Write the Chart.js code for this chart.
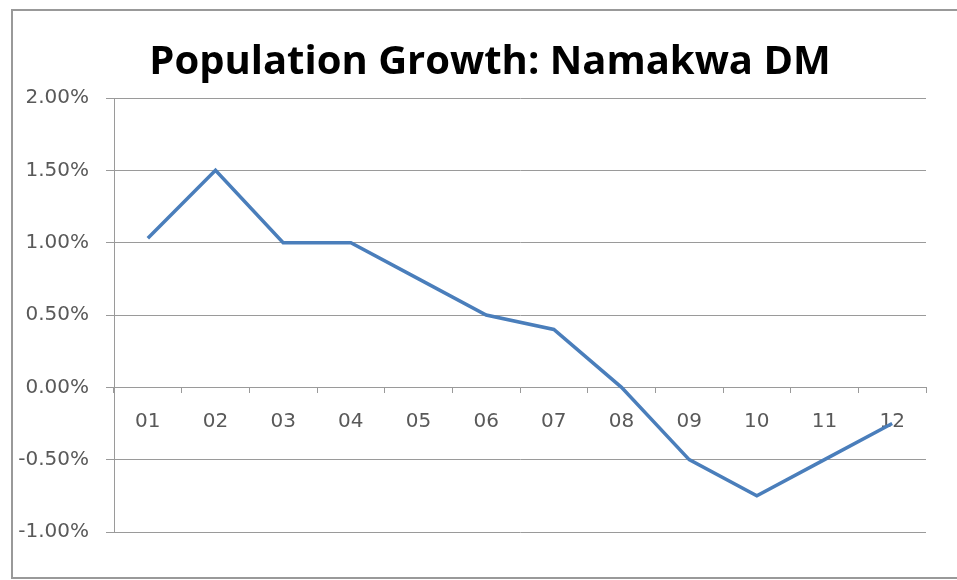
<!DOCTYPE html>
<html>
<head>
<meta charset="utf-8">
<title>Population Growth: Namakwa DM</title>
<script src="https://cdn.jsdelivr.net/npm/chart.js@4.4.1/dist/chart.umd.min.js"></script>
<style>
  body { margin: 0; background: #fff; overflow: hidden; }
  #wrap { position: relative; width: 957px; height: 580px; overflow: hidden; }
  #frame {
    position: absolute; left: 11px; top: 9px; width: 1000px; height: 566px;
    border: 2px solid #999; pointer-events: none;
  }
</style>
</head>
<body>
<div id="wrap">
  <canvas id="chart" width="957" height="580"></canvas>
  <div id="frame"></div>
</div>
<script>
const chartCanvas = document.getElementById("chart");

// Data (percent)
const years = ["01", "02", "03", "04", "05", "06", "07", "08", "09", "10", "11", "12"];
const growth = [1.03, 1.5, 1.0, 1.0, 0.75, 0.5, 0.4, 0.0, -0.5, -0.75, -0.5, -0.25];
const yMin = -1;
const yMax = 2;
const yStep = 0.5;

const gridGray = "#9a9a9a";
const labelGray = "#595959";

// nudge the title a little to the right, like in the original
const titleShift = {
  id: "titleShift",
  afterLayout(chart) {
    if (chart.titleBlock) chart.titleBlock.left += 40;
  }
};

new Chart(chartCanvas, {
  type: "line",
  data: {
    labels: years,
    datasets: [{
      label: "Population Growth",
      data: growth,
      borderColor: "#4A7EBB",
      borderWidth: 3.5,
      pointRadius: 0,
      tension: 0,
      fill: false
    }]
  },
  options: {
    responsive: false,
    animation: false,
    devicePixelRatio: 1,
    layout: {
      padding: { left: 14, right: 31, top: 0, bottom: 48 }
    },
    plugins: {
      legend: { display: false },
      tooltip: { enabled: false },
      title: {
        display: true,
        text: "Population Growth: Namakwa DM",
        color: "#000",
        font: { family: "'Open Sans'", size: 40, weight: "bold", lineHeight: 1.2 },
        padding: { top: 39, bottom: 11 }
      }
    },
    scales: {
      x: {
        position: { y: 0 },
        offset: true,
        grid: {
          offset: true,
          drawOnChartArea: false,
          tickLength: 5,
          color: gridGray
        },
        border: { color: gridGray, width: 1 },
        ticks: {
          color: labelGray,
          padding: 17,
          font: { family: "'DejaVu Sans'", size: 20 }
        }
      },
      y: {
        min: yMin,
        max: yMax,
        afterFit: s => { s.width = 100; },
        grid: { color: gridGray, tickLength: 8 },
        border: { color: gridGray, width: 1 },
        ticks: {
          stepSize: yStep,
          color: labelGray,
          padding: 17,
          font: { family: "'DejaVu Sans'", size: 20 },
          callback: v => v.toFixed(2) + "%"
        }
      }
    }
  },
  plugins: [titleShift]
});
</script>
</body>
</html>
